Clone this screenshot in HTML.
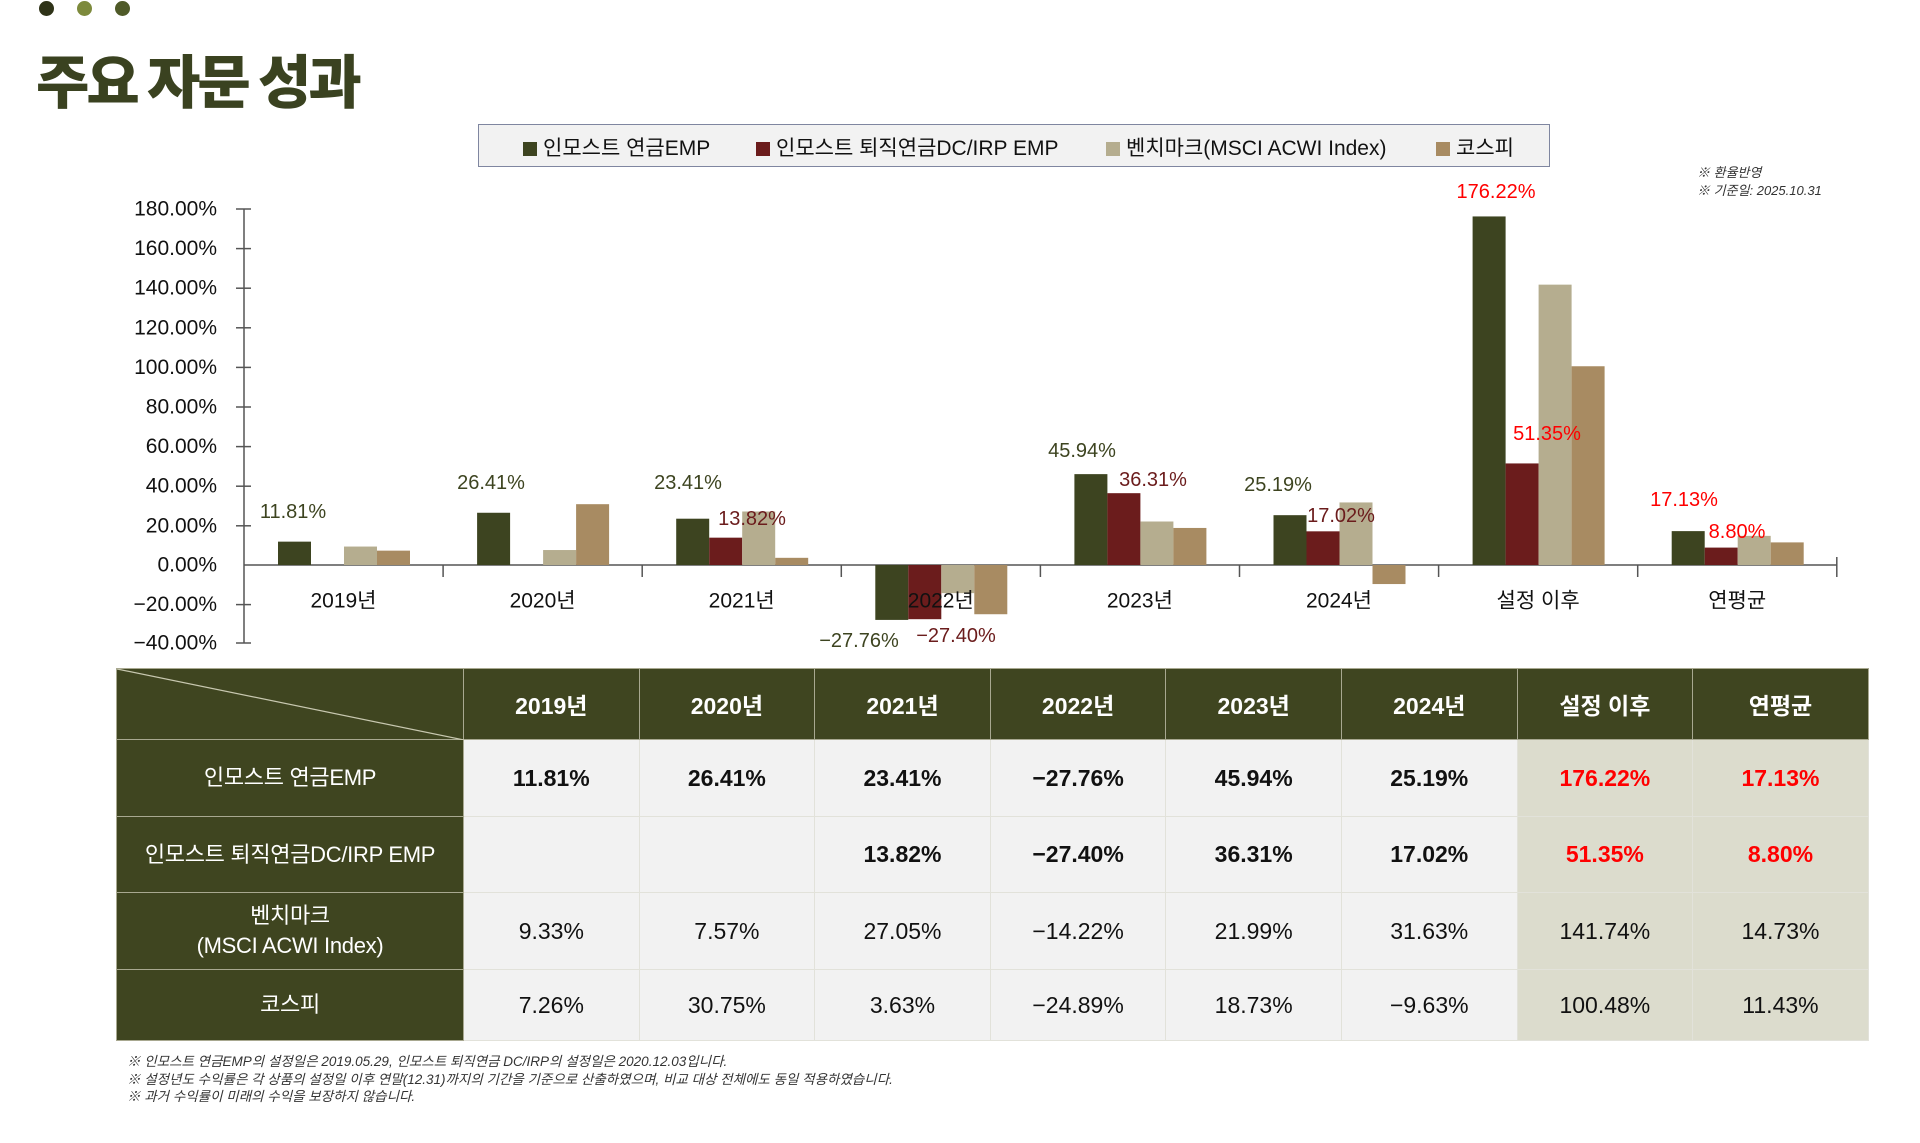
<!DOCTYPE html>
<html><head><meta charset="utf-8"><style>
*{margin:0;padding:0;box-sizing:border-box}
body{width:1920px;height:1143px;background:#fff;position:relative;overflow:hidden;font-family:"Liberation Sans","Noto Sans CJK KR",sans-serif}
.dot{position:absolute;top:1px;width:15px;height:15px;border-radius:50%}
.title{position:absolute;left:36px;top:36px;font-size:58px;font-weight:900;color:#3a4220;letter-spacing:-3px;font-family:"Noto Sans CJK KR",sans-serif}
.legend{position:absolute;left:478px;top:124px;width:1072px;height:43px;background:#f2f2f2;border:1.5px solid #7f86a0}
.li{position:absolute;top:7px;font-size:21px;color:#111;white-space:nowrap}
.li i{display:inline-block;width:14px;height:14px;margin-right:6px;vertical-align:-1px}
.note{position:absolute;font-size:13px;font-style:italic;color:#333}
table{position:absolute;left:116px;top:668px;border-collapse:collapse;table-layout:fixed}
td{text-align:center;font-size:23px;color:#111;border:1px solid #e2e2da;background:#f2f2f2}
td.h{background:#3f4520;color:#fff;border-color:#a8a890;font-weight:bold}
td.r{background:#3f4520;color:#fff;border-color:#a8a890;font-size:22px;line-height:30px;letter-spacing:-0.3px}
td.s{background:#dcdccd}
tr.b td{font-weight:bold}
tr.b td.r{font-weight:normal}
.red{color:#f00}
.fn{position:absolute;left:127px;font-size:13.5px;font-style:italic;color:#333}
</style></head><body>
<div class="dot" style="left:39px;background:#2f3318"></div>
<div class="dot" style="left:77px;background:#7d8a3c"></div>
<div class="dot" style="left:115px;background:#4f5a28"></div>
<div class="title">주요 자문 성과</div>
<div class="legend">
<div class="li" style="left:44px"><i style="background:#3d4420"></i>인모스트 연금EMP</div>
<div class="li" style="left:277px"><i style="background:#6b1c1c"></i>인모스트 퇴직연금DC/IRP EMP</div>
<div class="li" style="left:627px"><i style="background:#b5ad8f"></i>벤치마크(MSCI ACWI Index)</div>
<div class="li" style="left:957px"><i style="background:#a88b62"></i>코스피</div>
</div>
<div class="note" style="left:1697px;top:162px">※ 환율반영</div>
<div class="note" style="left:1697px;top:180px">※ 기준일: 2025.10.31</div>
<svg width="1920" height="668" style="position:absolute;left:0;top:0" font-family="Liberation Sans, Noto Sans CJK KR, sans-serif">
<g stroke="#555" stroke-width="1.5">
<line x1="244" y1="209" x2="244" y2="643"/>
<line x1="244" y1="565" x2="1837" y2="565"/>
<line x1="236" y1="209" x2="251" y2="209"/><line x1="236" y1="248.6" x2="251" y2="248.6"/><line x1="236" y1="288.2" x2="251" y2="288.2"/><line x1="236" y1="327.8" x2="251" y2="327.8"/><line x1="236" y1="367.4" x2="251" y2="367.4"/><line x1="236" y1="407" x2="251" y2="407"/><line x1="236" y1="446.6" x2="251" y2="446.6"/><line x1="236" y1="486.2" x2="251" y2="486.2"/><line x1="236" y1="525.8" x2="251" y2="525.8"/><line x1="236" y1="604.6" x2="251" y2="604.6"/><line x1="236" y1="643" x2="251" y2="643"/>
<line x1="443.1" y1="565" x2="443.1" y2="577"/><line x1="642.2" y1="565" x2="642.2" y2="577"/><line x1="841.3" y1="565" x2="841.3" y2="577"/><line x1="1040.4" y1="565" x2="1040.4" y2="577"/><line x1="1239.5" y1="565" x2="1239.5" y2="577"/><line x1="1438.6" y1="565" x2="1438.6" y2="577"/><line x1="1637.7" y1="565" x2="1637.7" y2="577"/><line x1="1836.8" y1="557" x2="1836.8" y2="577"/>
</g>
<g font-size="21" fill="#111" text-anchor="end" dominant-baseline="central">
<text x="217" y="209">180.00%</text><text x="217" y="248.6">160.00%</text><text x="217" y="288.2">140.00%</text><text x="217" y="327.8">120.00%</text><text x="217" y="367.4">100.00%</text><text x="217" y="407">80.00%</text><text x="217" y="446.6">60.00%</text><text x="217" y="486.2">40.00%</text><text x="217" y="525.8">20.00%</text><text x="217" y="565">0.00%</text><text x="217" y="604.6">−20.00%</text><text x="217" y="643">−40.00%</text>
</g>
<g>
<rect x="278" y="541.64" width="33" height="23.36" fill="#3d4420"/><rect x="344" y="546.55" width="33" height="18.45" fill="#b5ad8f"/><rect x="377" y="550.64" width="33" height="14.36" fill="#a88b62"/>
<rect x="477.1" y="512.76" width="33" height="52.24" fill="#3d4420"/><rect x="543.1" y="550.03" width="33" height="14.97" fill="#b5ad8f"/><rect x="576.1" y="504.18" width="33" height="60.82" fill="#a88b62"/>
<rect x="676.2" y="518.7" width="33" height="46.3" fill="#3d4420"/><rect x="709.2" y="537.66" width="33" height="27.34" fill="#6b1c1c"/><rect x="742.2" y="511.5" width="33" height="53.5" fill="#b5ad8f"/><rect x="775.2" y="557.82" width="33" height="7.18" fill="#a88b62"/>
<rect x="875.3" y="565" width="33" height="54.91" fill="#3d4420"/><rect x="908.3" y="565" width="33" height="54.2" fill="#6b1c1c"/><rect x="941.3" y="565" width="33" height="28.13" fill="#b5ad8f"/><rect x="974.3" y="565" width="33" height="49.23" fill="#a88b62"/>
<rect x="1074.4" y="474.13" width="33" height="90.87" fill="#3d4420"/><rect x="1107.4" y="493.18" width="33" height="71.82" fill="#6b1c1c"/><rect x="1140.4" y="521.5" width="33" height="43.5" fill="#b5ad8f"/><rect x="1173.4" y="527.95" width="33" height="37.05" fill="#a88b62"/>
<rect x="1273.5" y="515.17" width="33" height="49.83" fill="#3d4420"/><rect x="1306.5" y="531.33" width="33" height="33.67" fill="#6b1c1c"/><rect x="1339.5" y="502.44" width="33" height="62.56" fill="#b5ad8f"/><rect x="1372.5" y="565" width="33" height="19.05" fill="#a88b62"/>
<rect x="1472.6" y="216.44" width="33" height="348.56" fill="#3d4420"/><rect x="1505.6" y="463.43" width="33" height="101.57" fill="#6b1c1c"/><rect x="1538.6" y="284.64" width="33" height="280.36" fill="#b5ad8f"/><rect x="1571.6" y="366.25" width="33" height="198.75" fill="#a88b62"/>
<rect x="1671.7" y="531.12" width="33" height="33.88" fill="#3d4420"/><rect x="1704.7" y="547.59" width="33" height="17.41" fill="#6b1c1c"/><rect x="1737.7" y="535.86" width="33" height="29.14" fill="#b5ad8f"/><rect x="1770.7" y="542.39" width="33" height="22.61" fill="#a88b62"/>
</g>
<g font-size="21" fill="#111" text-anchor="middle" dominant-baseline="central">
<text x="343.5" y="601">2019년</text><text x="542.6" y="601">2020년</text><text x="741.7" y="601">2021년</text><text x="940.8" y="601">2022년</text><text x="1139.9" y="601">2023년</text><text x="1339" y="601">2024년</text><text x="1538.1" y="601">설정 이후</text><text x="1737.2" y="601">연평균</text>
</g>
<g font-size="20" text-anchor="middle" dominant-baseline="central">
<text x="293" y="512" fill="#3d4420">11.81%</text>
<text x="491" y="483" fill="#3d4420">26.41%</text>
<text x="688" y="483" fill="#3d4420">23.41%</text>
<text x="752" y="519" fill="#6b1c1c">13.82%</text>
<text x="859" y="641" fill="#3d4420">−27.76%</text>
<text x="956" y="636" fill="#6b1c1c">−27.40%</text>
<text x="1082" y="451" fill="#3d4420">45.94%</text>
<text x="1153" y="480" fill="#6b1c1c">36.31%</text>
<text x="1278" y="485" fill="#3d4420">25.19%</text>
<text x="1341" y="516" fill="#6b1c1c">17.02%</text>
<text x="1496" y="192" fill="#f00">176.22%</text>
<text x="1547" y="434" fill="#f00">51.35%</text>
<text x="1684" y="500" fill="#f00">17.13%</text>
<text x="1737" y="532" fill="#f00">8.80%</text>
</g>
</svg>
<table>
<colgroup><col style="width:347px"><col style="width:175.6px"><col style="width:175.6px"><col style="width:175.6px"><col style="width:175.6px"><col style="width:175.6px"><col style="width:175.6px"><col style="width:175.6px"><col style="width:175.6px"></colgroup>
<tr style="height:71px"><td class="h" style="position:relative"><svg width="347" height="71" style="position:absolute;left:0;top:0"><line x1="0" y1="0" x2="347" y2="71" stroke="#c8c8b0" stroke-width="1.2"/></svg></td><td class="h">2019년</td><td class="h">2020년</td><td class="h">2021년</td><td class="h">2022년</td><td class="h">2023년</td><td class="h">2024년</td><td class="h">설정 이후</td><td class="h">연평균</td></tr>
<tr class="b" style="height:77px"><td class="r">인모스트 연금EMP</td><td>11.81%</td><td>26.41%</td><td>23.41%</td><td>−27.76%</td><td>45.94%</td><td>25.19%</td><td class="s red">176.22%</td><td class="s red">17.13%</td></tr>
<tr class="b" style="height:76px"><td class="r">인모스트 퇴직연금DC/IRP EMP</td><td></td><td></td><td>13.82%</td><td>−27.40%</td><td>36.31%</td><td>17.02%</td><td class="s red">51.35%</td><td class="s red">8.80%</td></tr>
<tr style="height:77px"><td class="r">벤치마크<br>(MSCI ACWI Index)</td><td>9.33%</td><td>7.57%</td><td>27.05%</td><td>−14.22%</td><td>21.99%</td><td>31.63%</td><td class="s">141.74%</td><td class="s">14.73%</td></tr>
<tr style="height:71px"><td class="r">코스피</td><td>7.26%</td><td>30.75%</td><td>3.63%</td><td>−24.89%</td><td>18.73%</td><td>−9.63%</td><td class="s">100.48%</td><td class="s">11.43%</td></tr>
</table>
<div class="fn" style="top:1050px">※ 인모스트 연금EMP의 설정일은 2019.05.29, 인모스트 퇴직연금 DC/IRP의 설정일은 2020.12.03입니다.</div>
<div class="fn" style="top:1068px">※ 설정년도 수익률은 각 상품의 설정일 이후 연말(12.31)까지의 기간을 기준으로 산출하였으며, 비교 대상 전체에도 동일 적용하였습니다.</div>
<div class="fn" style="top:1085px">※ 과거 수익률이 미래의 수익을 보장하지 않습니다.</div>
</body></html>
